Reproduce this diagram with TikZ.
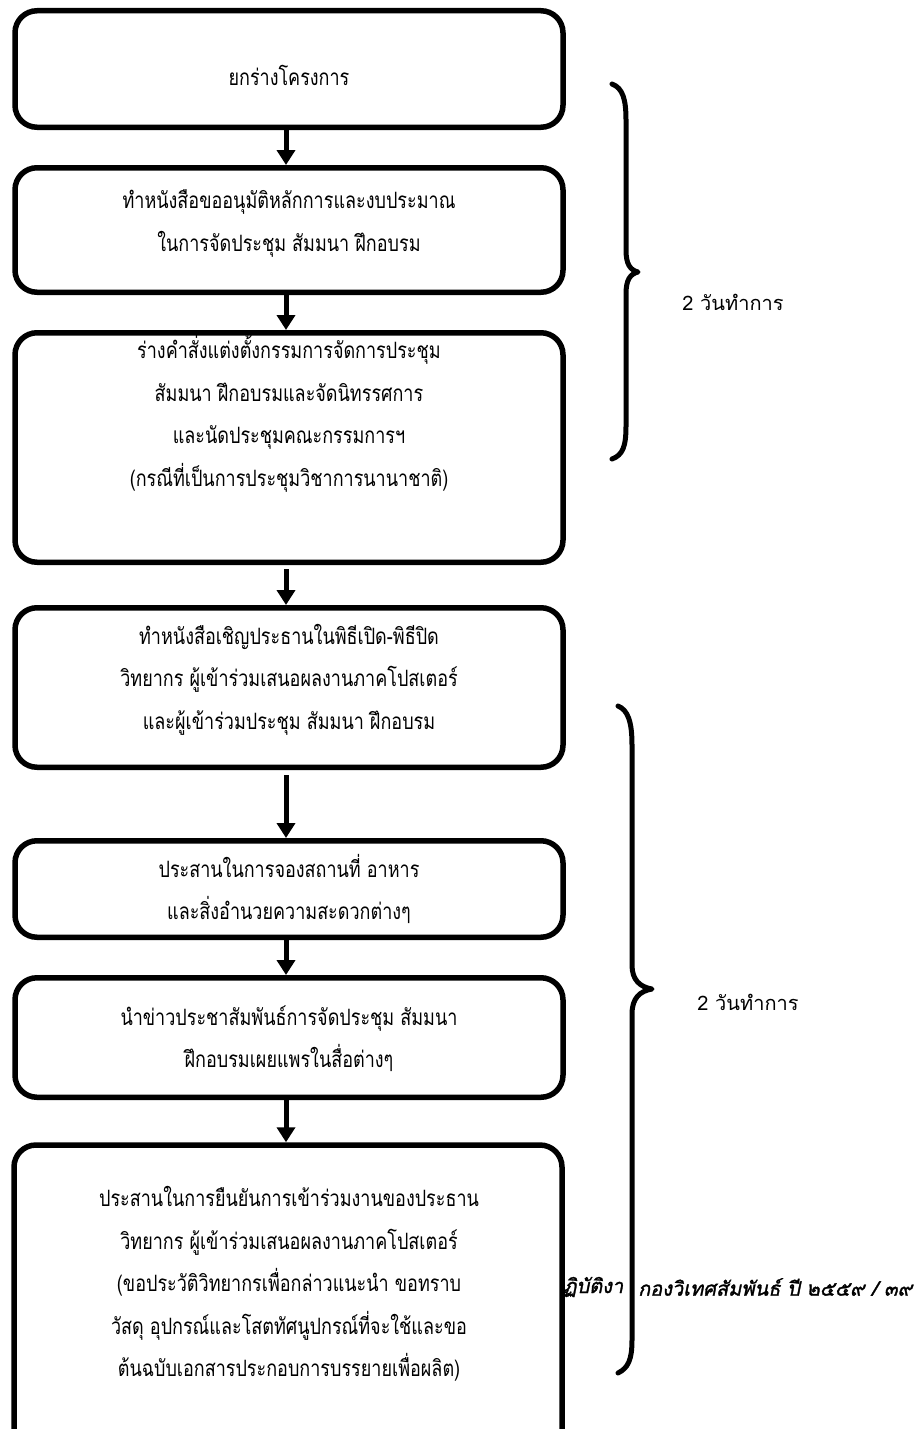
\documentclass[tikz,border=0pt]{standalone}
\usepackage{fontspec}
\usetikzlibrary{arrows.meta}
\newfontfamily\thaibox[Script=Thai,FakeStretch=0.8]{Loma}
\newfontfamily\thaiside[Script=Thai]{Loma}
\newfontfamily\thaifoot[Script=Thai,FakeSlant=0.2,FakeBold=1.5]{Loma}

\tikzset{
  stepbox/.style={draw, line width=5.5pt, rounded corners=22pt,
    minimum width=548pt, inner sep=0pt, fill=white},
  boxtext/.style={align=center, inner sep=0pt,
    font=\thaibox\fontsize{22.5}{42.5}\selectfont},
  flow/.style={line width=5pt, -{Triangle[width=18pt,length=15pt]}},
  brace/.style={line width=5pt, line cap=round, line join=round},
  sidetext/.style={inner sep=0pt, font=\thaiside\fontsize{20}{24}\selectfont},
  foottext/.style={inner sep=0pt, anchor=west, font=\thaifoot\fontsize{20}{24}\selectfont}
}

\begin{document}
\begin{tikzpicture}[x=1pt,y=-1pt]
\useasboundingbox (0,0) rectangle (915,1429);
\clip (0,0) rectangle (915,1429);

% footer line of the page, partly covered by the last box and the brace
\begin{scope}
  \clip (560,1260) rectangle (626,1310);
  \node[foottext] (footA) at (563,1287) {ฏิบัติงา};
\end{scope}
\node[foottext] (footB) at (638,1287) {กองวิเทศสัมพันธ์ ปี ๒๕๕๙ / ๓๙};

% process boxes
\node[stepbox, minimum height=116.5pt] (b1) at (289,69) {};
\node[stepbox, minimum height=124.5pt] (b2) at (289,230) {};
\node[stepbox, minimum height=229.5pt] (b3) at (289,447.5) {};
\node[stepbox, minimum height=159.5pt] (b4) at (289,687.5) {};
\node[stepbox, minimum height=96.5pt] (b5) at (289,889) {};
\node[stepbox, minimum height=119.5pt] (b6) at (289,1037.5) {};
\node[stepbox, minimum height=320pt] (b7) at (288,1305) {};

% box texts
\node[boxtext] (t1) at (289,75) {ยกร่างโครงการ};
\node[boxtext] (t2) at (289,223.5) {ทำหนังสือขออนุมัติหลักการและงบประมาณ\\ในการจัดประชุม สัมมนา ฝึกอบรม};
\node[boxtext] (t3) at (289,413.5) {ร่างคำสั่งแต่งตั้งกรรมการจัดการประชุม\\สัมมนา ฝึกอบรมและจัดนิทรรศการ\\และนัดประชุมคณะกรรมการฯ\\(กรณีที่เป็นการประชุมวิชาการนานาชาติ)};
\node[boxtext] (t4) at (289,679.5) {ทำหนังสือเชิญประธานในพิธีเปิด-พิธีปิด\\วิทยากร ผู้เข้าร่วมเสนอผลงานภาคโปสเตอร์\\และผู้เข้าร่วมประชุม สัมมนา ฝึกอบรม};
\node[boxtext] (t5) at (289,889) {ประสานในการจองสถานที่ อาหาร\\และสิ่งอำนวยความสะดวกต่างๆ};
\node[boxtext] (t6) at (289,1038.5) {นำข่าวประชาสัมพันธ์การจัดประชุม สัมมนา\\ฝึกอบรมเผยแพรในสื่อต่างๆ};
\node[boxtext] (t7) at (289,1284) {ประสานในการยืนยันการเข้าร่วมงานของประธาน\\วิทยากร ผู้เข้าร่วมเสนอผลงานภาคโปสเตอร์\\(ขอประวัติวิทยากรเพื่อกล่าวแนะนำ ขอทราบ\\วัสดุ อุปกรณ์และโสตทัศนูปกรณ์ที่จะใช้และขอ\\ต้นฉบับเอกสารประกอบการบรรยายเพื่อผลิต)};

% arrows between steps
\draw[flow] (b1.south -| 286,0) -- (b2.north -| 286,0);
\draw[flow] (b2.south -| 286,0) -- (b3.north -| 286,0);
\draw[flow, shorten <=4pt] (b3.south -| 286,0) -- (b4.north -| 286,0);
\draw[flow, shorten <=5pt] (b4.south -| 286,0) -- (b5.north -| 286,0);
\draw[flow] (b5.south -| 286,0) -- (b6.north -| 286,0);
\draw[flow] (b6.south -| 286,0) -- (b7.north -| 286,0);

% first brace
\draw[brace] (612,84) .. controls (623,88) and (626,100) .. (626,120)
  -- (626,250) .. controls (626,264) and (630,270) .. (638,272)
  .. controls (630,274) and (626,280) .. (626,294)
  -- (626,426) .. controls (626,446) and (623,455) .. (612,459);
\node[sidetext] (s1) at (733,302) {2 วันทำการ};

% second brace
\draw[brace] (618,706) .. controls (628,710) and (632,722) .. (632,745)
  -- (632,965) .. controls (632,980) and (640,987) .. (652,989)
  .. controls (640,991) and (632,998) .. (632,1014)
  -- (632,1340) .. controls (632,1360) and (628,1368) .. (618,1373);
\node[sidetext] (s2) at (748,1002) {2 วันทำการ};
\end{tikzpicture}
\end{document}
